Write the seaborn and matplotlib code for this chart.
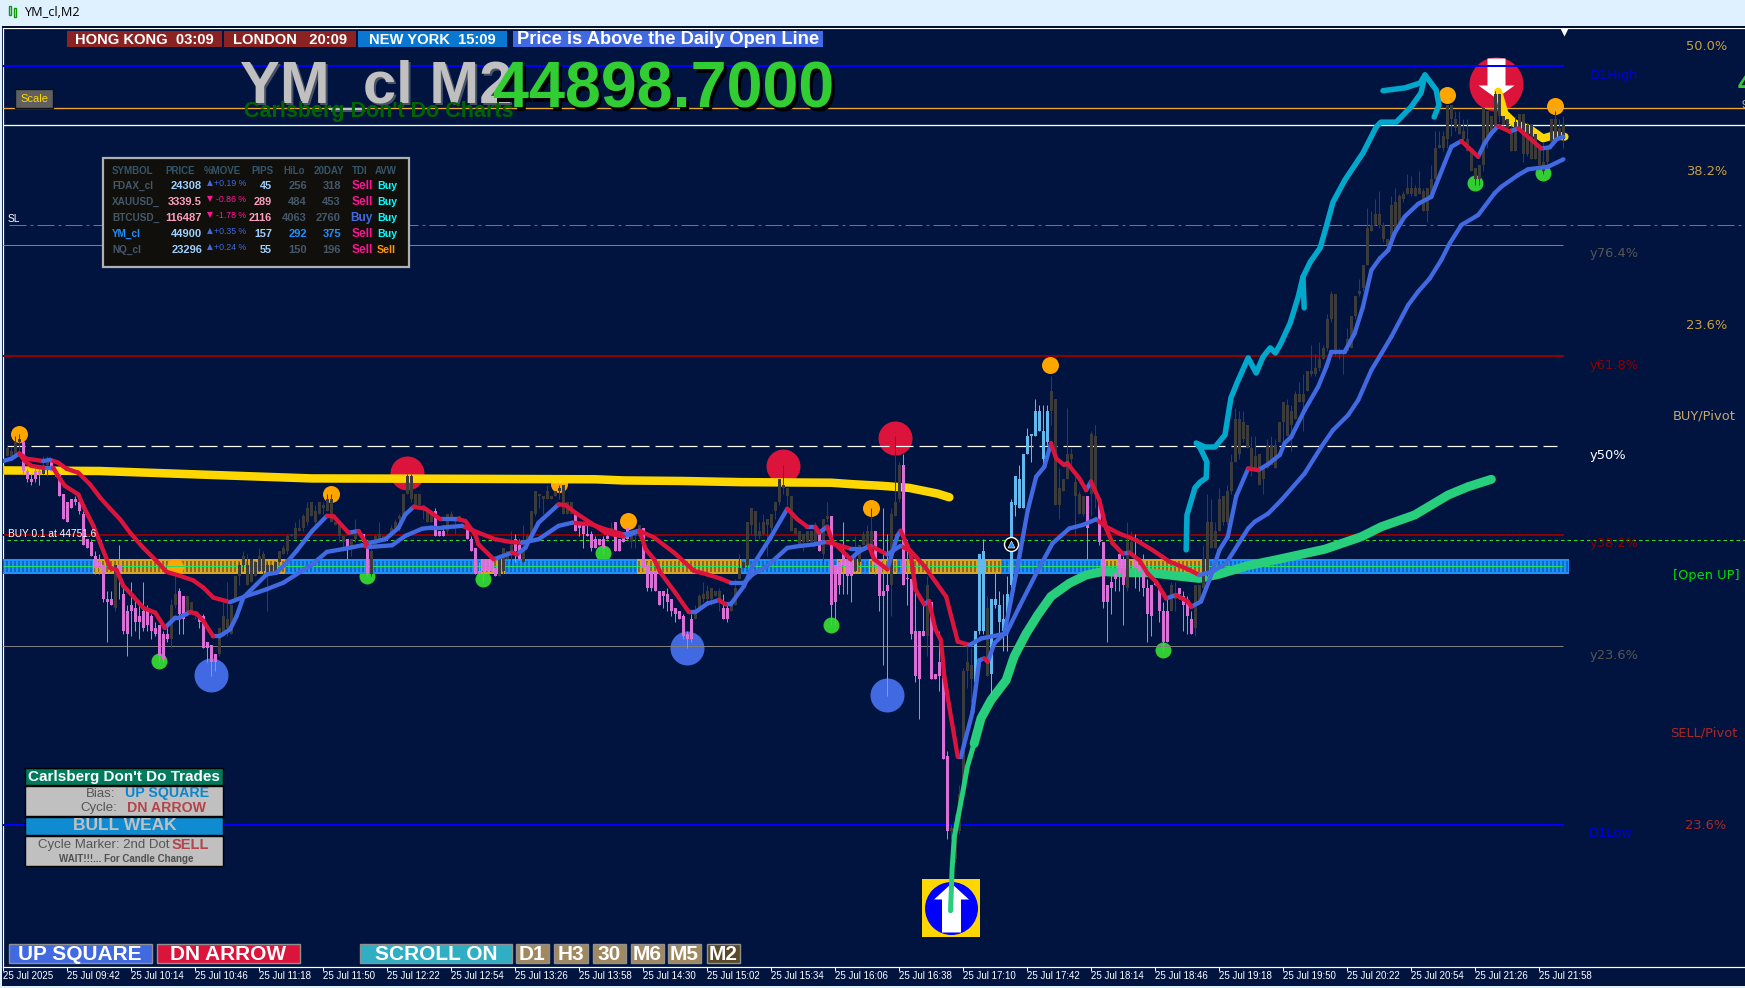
import numpy as np
import pandas as pd
import matplotlib
matplotlib.use('Agg')
import matplotlib.pyplot as plt
from matplotlib.patches import Rectangle
from matplotlib.path import Path
import seaborn as sns

# prices are points above 44000, x is the bar number (M2 bars)
body_top = [782,781,784,785,784,774,771,774,774,776,
 778,777,774,773,766,763,764,764,763,759,
 750,749,744,742,741,729,729,741,741,731,
 725,727,726,723,725,725,723,719,720,717,
 717,727,731,732,730,730,728,725,723,723,
 714,713,710,719,723,722,727,737,741,744,
 741,743,742,744,745,741,741,742,746,747,
 751,752,754,754,758,761,763,760,763,762,
 764,764,756,755,751,750,750,752,753,752,
 748,746,751,752,751,751,754,756,758,766,
 772,772,766,766,762,760,760,760,753,753,
 759,759,757,758,755,754,750,747,739,743,
 743,743,740,743,747,746,748,750,748,747,
 751,760,767,766,765,767,765,767,768,769,
 763,763,759,755,755,752,752,750,750,750,
 751,754,756,750,751,754,751,753,755,754,
 741,739,739,732,732,731,729,726,725,723,
 717,722,724,730,731,732,733,732,732,726,
 726,727,733,740,742,756,761,760,753,756,
 757,759,763,771,769,768,765,754,753,752,
 753,753,755,753,757,758,758,741,742,745,
 743,742,743,748,752,753,753,753,743,732,
 734,759,763,776,776,736,736,718,718,718,
 734,728,703,707,702,674,649,651,661,704,
 707,706,718,745,746,726,729,729,727,722,
 731,763,772,771,780,786,787,795,795,788,
 795,802,799,768,771,780,780,770,766,765,
 765,787,786,763,749,734,735,738,745,743,
 749,749,743,741,739,733,734,735,734,725,
 725,734,731,733,730,728,722,734,734,743,
 756,756,753,764,765,767,777,792,792,791,
 790,782,779,780,775,783,783,783,791,798,
 797,795,801,801,801,809,809,810,813,817,
 827,836,836,816,816,820,828,835,837,846,
 859,860,864,864,860,855,867,868,870,871,
 873,873,873,873,872,873,876,887,888,891,
 902,902,897,895,893,890,887,880,881,901,
 900,898,906,906,898,897,894,896,899,899,
 895,895,892,888,882,887,897,897,894,895]
body_bot = [779,779,780,784,774,771,770,771,773,773,
 776,774,773,765,757,756,761,763,760,748,
 747,744,740,740,729,728,727,726,738,718,
 717,725,721,721,719,720,718,717,709,708,
 715,715,727,724,722,725,724,723,721,712,
 712,707,707,710,716,719,717,729,737,741,
 734,735,737,739,739,738,738,739,742,745,
 746,751,750,753,754,756,758,756,759,761,
 760,756,755,751,749,747,747,750,752,749,
 738,738,748,750,750,750,751,754,757,758,
 766,764,762,762,761,756,756,751,751,751,
 753,757,756,756,754,750,746,738,738,739,
 739,739,737,737,739,743,745,746,743,742,
 748,752,759,765,764,764,764,765,767,759,
 759,759,753,754,752,751,747,747,748,747,
 750,752,746,746,749,750,749,751,751,740,
 733,733,732,727,730,728,725,724,722,716,
 715,715,722,726,729,729,729,730,729,722,
 722,725,727,736,740,741,755,751,751,752,
 755,754,760,763,768,765,753,752,748,749,
 749,749,749,746,745,757,727,728,734,741,
 737,737,739,742,748,748,748,741,730,730,
 732,734,758,764,734,736,717,702,701,716,
 716,701,701,702,673,648,648,638,648,662,
 704,701,700,718,718,702,703,727,721,718,
 722,734,762,761,761,780,786,786,788,778,
 784,795,762,762,767,771,778,765,759,759,
 754,766,767,749,728,728,733,736,738,734,
 733,744,740,739,733,724,723,734,725,714,
 714,725,729,731,727,723,717,719,728,733,
 738,747,747,753,756,756,767,777,780,785,
 782,775,774,769,771,775,776,775,784,791,
 786,790,792,798,798,802,808,808,810,813,
 817,827,815,815,815,816,817,828,836,838,
 846,858,860,860,855,853,855,858,860,869,
 871,871,870,871,865,865,869,876,887,887,
 890,897,894,892,890,886,879,876,876,881,
 890,891,894,898,895,894,886,886,894,885,
 885,883,883,881,879,882,889,890,890,890]
wick_high = [783,782,786,787,784,775,773,775,775,779,
 779,777,775,773,766,763,764,765,765,760,
 750,750,746,745,741,732,732,741,748,734,
 727,735,729,727,735,727,724,721,720,718,
 719,729,737,733,730,730,728,725,724,724,
 714,713,710,719,728,735,727,737,742,746,
 745,743,742,747,746,742,741,742,746,748,
 752,752,756,757,759,763,763,762,763,763,
 766,766,756,755,751,750,750,757,753,752,
 749,747,752,756,751,751,755,757,759,766,
 773,773,766,766,762,761,760,761,753,755,
 759,760,757,758,755,756,751,747,742,743,
 743,743,740,745,747,746,753,752,750,755,
 752,760,767,766,765,769,765,767,769,769,
 763,763,759,755,755,755,753,751,750,751,
 753,756,756,750,751,754,751,753,755,754,
 742,739,739,732,732,733,729,726,725,724,
 718,724,727,731,735,734,733,732,733,731,
 727,727,736,745,742,756,761,760,756,759,
 757,759,763,771,776,768,765,754,753,752,
 753,753,756,753,757,763,758,741,742,756,
 743,742,751,748,753,755,761,753,743,761,
 752,761,786,777,780,748,736,732,718,729,
 737,728,703,718,704,676,650,654,664,705,
 713,712,718,745,750,730,729,739,732,731,
 737,764,772,776,780,789,787,799,797,797,
 797,807,799,775,771,796,782,772,767,765,
 765,788,790,763,749,734,738,739,745,744,
 756,753,752,741,745,736,734,735,734,728,
 729,735,735,733,732,730,725,734,734,748,
 766,764,756,768,765,769,780,796,795,795,
 790,786,786,780,775,785,786,785,791,798,
 799,797,802,805,808,809,818,815,819,818,
 829,837,836,817,816,824,828,835,841,846,
 866,865,869,872,861,855,870,873,871,872,
 878,877,874,879,873,873,881,893,893,893,
 902,902,900,900,897,897,887,880,881,901,
 900,898,907,906,898,897,895,898,899,899,
 896,895,892,888,889,887,897,900,897,898]
wick_low = [779,779,780,780,773,770,769,770,769,773,
 772,774,772,765,757,756,761,762,759,748,
 747,744,738,738,728,714,727,725,729,717,
 709,716,718,715,718,718,715,716,707,707,
 714,712,726,717,717,723,724,722,719,712,
 707,702,704,709,716,716,717,729,734,739,
 734,735,737,739,738,725,738,739,742,745,
 745,751,750,753,753,755,758,755,759,759,
 760,756,755,749,746,743,744,749,752,749,
 737,737,747,749,750,750,751,753,753,758,
 766,763,762,762,757,756,756,751,751,751,
 752,757,752,756,754,750,746,738,737,735,
 739,739,737,737,738,743,741,742,743,742,
 747,751,758,761,759,764,764,765,764,759,
 759,759,753,751,747,751,746,747,748,745,
 750,752,746,746,749,750,747,747,751,739,
 732,732,732,727,726,725,723,721,722,715,
 712,714,722,725,728,727,727,730,725,722,
 721,725,727,736,740,740,752,750,750,752,
 744,753,757,762,766,762,753,752,748,746,
 749,749,749,746,741,756,720,720,731,731,
 731,728,739,741,748,747,748,738,725,706,
 695,723,758,763,734,727,715,700,687,716,
 709,701,701,697,673,645,645,637,647,661,
 698,693,699,717,717,702,696,726,715,711,
 711,733,758,761,761,780,777,786,788,776,
 783,790,762,757,767,771,775,751,759,758,
 743,758,761,748,726,714,724,732,732,720,
 732,744,733,732,730,714,716,734,721,711,
 714,725,725,729,718,717,717,716,728,733,
 737,747,747,753,755,755,766,777,778,784,
 782,772,774,769,766,775,776,775,784,784,
 786,781,792,798,788,802,807,807,809,813,
 816,826,814,813,808,816,817,827,835,837,
 846,858,860,859,854,852,854,856,860,868,
 871,870,870,871,865,861,869,876,887,886,
 887,891,893,892,889,886,879,874,874,879,
 887,891,894,896,895,894,886,886,894,882,
 884,883,883,881,878,881,889,889,890,887]
# d = up bar, p = down bar, b = highlighted up bar
bar_kind = ("ddddpppppd" "dppppppppp" "pppppppdpp" "pppppppppp" "pddppdddpp"
            "pppddddddd" "dddddddddd" "dddddddddd" "dddddpdddp" "pddddddddd"
            "dddddddppp" "dddddppppp" "pppddddppd" "dddddddddd" "ddpppppppp"
            "pdppppdddp" "pppppppppp" "ppdddddddp" "pddddddddd" "dddddddddd"
            "dddpddpppp" "ppdddddppp" "pdddpppppp" "dpppppdddd" "ddbbbdbbbb"
            "bbbbbbbbbb" "bddddddddd" "pddppppppp" "ddpppppppp" "pddppppddd"
            + "d" * 90)

# fast moving average
fast_x = [-1,1,3,4.4,6,9,11.5,12.75,14.4,17.75,19,21.5,23.2,25.7,27.3,29,31.5,34,37,39.4,42,43,45.7,47.3,49,51.5,53,55.7,57.3,59,
 62.3,64.8,67.3,69.8,72.3,76.2,79.9,81.6,85.3,87.8,89.9,90.75,94.5,97.8,99.5,101.6,104.5,108.3,112.8,114.5,117,117.8,121.6,126.2,127.4,129.5,132.8,137.8,139.5,142,147,149.5,151.5,154,
 155.8,158,159.6,161.7,163.3,167,170.4,172,175,177.9,179.6,180.8,184.2,186.3,190.8,195,197.5,200,202,202.9,205,206.3,208.3,210.8,212.5,215.4,216.7,220,222.5,223.3,225.8,226.7,227,229.2,230.4,232,
 233.4,234.25,235.9,237.6,238.4,241.3,243,244.25,245.1,246.75,249.25,250.9,253,255.1,257.2,259.25,260.9,262.2,264.2,265,268,269.7,270.9,273,274.7,276.3,278.8,280.5,283,285.1,287.2,289.7,292.2,295.1,296,298.4,300.5,303,305.1,307.2,310.2,
 312.7,315.2,318.1,319.3,321,324.3,327.7,329.75,331,334.3,336.8,338.9,341,343.1,345.2,346.8,349.3,352.7,356,359.3,361,363.5,367.7,369.3,371,372.7,375.6,377.7,383.5,385.6,387.3,389]
fast_y = [777.4,778.2,780,777.4,775.7,775,775,772,768.7,765.7,761.7,754.7,748.8,740,739.3,733.7,730,726,724.3,719,722.6,722.6,724.5,724,721.4,716,716,718.5,723,729.6,
 734.2,737.7,738.3,741.8,745.9,752.9,758.2,758,752.3,752.9,748.2,748.8,750,754,758.7,761.4,760.7,757,757,756.4,751.7,748.2,743,745.3,744.7,747,755.8,762.2,762,759.3,754.7,752.3,751.7,751,
 751.7,753,746.5,743,738.3,731.3,724.5,724.5,727.5,728.7,727.2,727.2,733.7,740.7,750.6,760.7,757,754.4,754.4,752.3,754.4,749,746.5,743,745.3,747.7,743,739.5,751.2,753,745.3,736,732.5,727.2,728.4,718.5,
 714.7,701.9,687.9,673.9,673.9,689.6,707.7,708.3,707.1,713.6,717,728.7,744,760.2,771.9,775.4,783.6,778.3,776,776.6,771.3,767.2,770.2,763.7,753.8,748.6,745,745.3,742.7,738,735.1,729.3,730.5,728.2,726.4,728.2,735.7,746.2,750.9,765,774.8,
 774.2,776.3,779.5,783.6,785.9,795.2,803.4,810.4,815.6,815.6,822,831.4,844.2,848.3,851.2,857.1,862.9,867.4,869.9,881.6,887.4,889.4,883.9,888.6,892.1,894.6,892.7,893.8,886.8,887.2,890,890.9]

# slow moving average
slow_x = [3,4.8,9,10.7,12.75,14.8,17.75,20.7,23.2,25.7,28.2,30.7,34,37.3,39.8,43.2,46.5,49,51.5,55.7,59.8,62.3,64.8,69,76.2,
 79.9,84.5,88.7,90.4,96.2,99.5,103.7,106.2,108.7,113.7,117.8,122,126.2,128.7,132.8,137.8,141.2,146.2,149.5,154.2,
 158,161.7,166.7,171.7,175,178.4,180.8,184.2,186.3,190,195,198.3,201.7,204.2,205.8,210.8,214.2,215.8,220,223.3,225.8,229.2,232.2,
 234.7,237.6,240.5,243.5,249.7,253,257.2,261.3,265.5,268.8,272.2,274.7,278,282.2,286.3,290.5,294.7,298,301.3,304.7,310.2,
 311.8,315.2,318.5,324.3,328.5,331.4,335.2,337.7,341,343.5,346,350.2,352.7,355.6,358.5,360.6,363.5,367.7,371.8,373.5,377.7,380.2,385.2,389]
slow_y = [780,778.2,777.4,777.8,776.8,774.7,773.3,769.2,764.6,760.7,757,752.3,747,742.4,738.6,737.2,735.6,733.1,729.6,728,730.2,731.3,732.5,734.8,741.2,
 745.6,746.7,747.9,747.3,747.9,751.2,753.7,754.1,754.1,754.7,752.3,750,749,748.8,750,754.7,755.8,755.2,753.5,751.7,
 753,750.6,745.3,738.9,737.7,736.2,734.8,734.8,737.7,740.7,747,747.7,748.2,749,748.8,746.7,746.7,747.7,744.7,747.7,745.9,740.7,734.8,
 729.9,714.2,713,715.3,717,726.4,738,748.6,753.8,755,757,754.4,752,749.7,746.2,742.2,739.8,737.5,738.7,741.6,753.8,
 756.1,759,763.7,773,782.4,788.2,793.5,798.7,809.2,815,820.9,832,836.7,841.3,847.8,853.6,860,863.5,871.1,873.4,877.5,879.5,880.4,883]

# long moving averages
green_x = [235.8,236.2,236.75,238.8,240,241.7,243.4,245.9,249.7,251.7,254.7,257.6,260.9,265.5,269.7,273.8,278.8,285.5,292.2,298,303,310.2,316.8,322.7,329.3,338.5,343.5,351.8,360.2,365.2,371]
green_y = [620,635,646,661,670.4,678.5,687.3,693.7,700.7,709,717,723.5,730,734.6,737.5,738.7,738.3,738.3,737.2,736.3,737.8,740.8,742.7,744.5,746.5,750.9,754.4,758.5,765.5,768.4,771]
yellow_x = [-1,23,76,107,147,154,169,183.5,206,211,218.7,225.4,232.5,235.5]
yellow_y = [774.1,773.9,771.3,771.2,771,770.6,770.4,770,769.8,769.3,768.7,768,766,764.7]
tail_x = [372.7,374.3,376.8,381,383.9,386.8,389.3]
tail_y = [906.7,899,895.6,893.2,890.3,891.5,890.9]

# hand drawn cyan arrow
pen_x = [294.7,294.9,296.9,298.2,299.7,299.9,298.2,297.2,299.4,301.9,304.4,305.2,305.9,307.4,310.2,312.2,313.9,315.7,317,318.4,320.7,322.7,323.9,325.7,328.2,329.7,331.4,334.4,338.9,342.2,343.4,347.2,350.9,353.4,354.4]
pen_y = [746.3,758.5,768,770,771.5,777,782,783.7,782.3,782.3,786.5,793.5,799.5,804.7,813.5,808.2,813.8,817,815.2,818.7,825.7,834.8,841.8,847,852,859.3,868,875.8,885.2,894.3,896,896,901.3,906.2,912.5]
head_x = [343.9,349.4,353.2,354.4,357.2,357.9,356.7]
head_y = [907,908,909.7,912.5,907.3,902,897.8]
spur_x = [323.9,324.2]
spur_y = [841.8,831]

# signal dots
orange_x = [2.9,80.9,137.9,216,155.2,260.7,359.9,387]
orange_y = [786.9,765.9,769.4,761,756.4,811,905.5,901.7]
green_dot_x = [37.9,89.9,118.9,148.9,205.9,288.9,366.9,384]
green_dot_y = [707.4,737.2,736.1,745.2,720,711.3,874.7,878.2]
blue_dot_x = [50.9,170,220]
blue_dot_y = [702.5,712,695.5]
red_dot_x = [99.9,193.9,222]
red_dot_y = [773.2,775.7,785.5]

# horizontal levels
d1_high, gold_level, bid_level, sl_level = 915.7, 901.1, 895, 860
y764, y618, y50, y382, buy_level, y236, d1_low = 852.9, 814.2, 782.6, 751.5, 749.6, 712.5, 650
orange_spans = [(22,69),(119,124),(158,183),(208,213),(216,222),(225,248),(274,300)]

tick_bars = [-1 + 16*k for k in range(25)]
tick_labels = ['25 Jul 2025','25 Jul 09:42','25 Jul 10:14','25 Jul 10:46','25 Jul 11:18','25 Jul 11:50',
               '25 Jul 12:22','25 Jul 12:54','25 Jul 13:26','25 Jul 13:58','25 Jul 14:30','25 Jul 15:02',
               '25 Jul 15:34','25 Jul 16:06','25 Jul 16:38','25 Jul 17:10','25 Jul 17:42','25 Jul 18:14',
               '25 Jul 18:46','25 Jul 19:18','25 Jul 19:50','25 Jul 20:22','25 Jul 20:54','25 Jul 21:26','25 Jul 21:58']

# dashboard table
symbols = ['FDAX_cl','XAUUSD_','BTCUSD_','YM_cl','NQ_cl']
table_prices = ['24308','3339.5','116487','44900','23296']
table_moves = ['+0.19 %','-0.86 %','-1.78 %','+0.35 %','+0.24 %']
table_pips = ['45','289','2116','157','55']
table_hilo = ['256','484','4063','292','150']
table_20day = ['318','453','2760','375','196']
table_tdi = ['Sell','Sell','Buy','Sell','Sell']
table_avw = ['Buy','Buy','Buy','Buy','Sell']
table_heads = ['SYMBOL','PRICE','%MOVE','PIPS','HiLo','20DAY','TDI','AVW']

W, H = 1745, 988
BG = '#00143F'
sns.set_theme(style='dark', rc={'axes.facecolor': BG, 'figure.facecolor': BG})
plt.rcParams['font.family'] = ['Liberation Sans', 'DejaVu Sans']

fig = plt.figure(figsize=(W/100, H/100), dpi=100)
ax = fig.add_axes([3/W, 1-967/H, (W-3)/W, (967-28)/H])
ax.set_xlim(-1.075, 434.4)
ax.set_ylim(600.3, 928.95)
PX = 0.72  # one pixel in points


def seg_frame(xs, ys):
    # one row pair per segment so each can be coloured by its direction
    rows = []
    for k in range(len(xs)-1):
        d = 'up' if ys[k+1] >= ys[k] else 'down'
        rows.append((xs[k], ys[k], k, d))
        rows.append((xs[k+1], ys[k+1], k, d))
    return pd.DataFrame(rows, columns=['bar', 'price', 'seg', 'dir'])


def dots(xs, ys, size, color, z=2):
    sns.scatterplot(x=xs, y=ys, s=(size*PX)**2, color=color, linewidth=0, ax=ax, zorder=z, legend=False)


dots(orange_x, orange_y, 17, '#FFA500')
dots([41.9], [740.3], 17, '#FFA500', z=3.6)
dots(green_dot_x, green_dot_y, 16, '#32CD32')
dots(blue_dot_x, blue_dot_y, 34, '#4169E1')
dots(red_dot_x, red_dot_y, 34, '#DC143C')

# horizontal levels
ax.hlines([d1_high, d1_low], -1.075, 389.2, color='#0000FF', lw=2*PX, zorder=3)
ax.hlines([y618, y382], -1.075, 389.2, color='#8B0000', lw=2*PX, zorder=3)
ax.hlines([y764, y236], -1.075, 389, color='#7F7F7F', lw=1*PX, zorder=3)
ax.hlines(gold_level, -1.075, 434.4, color='#F0A828', lw=1.3*PX, zorder=3)
ax.hlines(bid_level, -1.075, 434.4, color='#FFFFFF', lw=1.3*PX, zorder=3)
ax.plot([0.5, 434.4], [sl_level]*2, color='#FF4500', lw=1*PX, zorder=3, dashes=(17, 4, 3, 4))
ax.plot([0, 387.5], [y50]*2, color='#FFFFFF', lw=1.2*PX, zorder=3, dashes=(15, 5))
ax.plot([0, 434.4], [buy_level]*2, color='#32E020', lw=1*PX, zorder=3, dashes=(3.5, 3))

# zone strip, one cell per bar
zone_top, zone_bot, zone_mid = 743.1, 737.85, 740.5
cells = np.arange(-1, 391)
is_orange = np.array([any(a <= c <= b for a, b in orange_spans) for c in cells])
ax.bar(cells, zone_top-zone_bot, bottom=zone_bot, width=1.0,
       color=np.where(is_orange, '#DAA520', '#1E90FF'), linewidth=0, zorder=3.5)
ax.vlines(cells[is_orange], zone_bot+0.6, zone_top-0.6, color='#8A6A28', lw=2*PX, zorder=3.55)
ax.vlines(cells[~is_orange], zone_bot+0.6, zone_top-0.6, color='#0C62AE', lw=1.6*PX, zorder=3.55)
ax.hlines(zone_mid, -1, 389, color='#22E060', lw=1*PX, zorder=3.6)

# long averages
sns.lineplot(x=yellow_x, y=yellow_y, color='#FFD700', lw=8.5*PX, ax=ax, zorder=4, sort=False,
             estimator=None, solid_capstyle='round')
sns.lineplot(x=green_x[:6], y=green_y[:6], color='#27CE7C', lw=5*PX, ax=ax, zorder=5.5, sort=False,
             estimator=None, solid_capstyle='round')
sns.lineplot(x=green_x[5:], y=green_y[5:], color='#27CE7C', lw=9*PX, ax=ax, zorder=4.5, sort=False,
             estimator=None, solid_capstyle='round')

# candles
kinds = np.array(list(bar_kind))
bars = np.arange(len(body_top))
top = np.array(body_top, dtype=float)
bot = np.array(body_bot, dtype=float)
kind_colors = {'d': '#3B3B3B', 'p': '#DA70D6', 'b': '#63B8EE'}
for k, col in kind_colors.items():
    m = kinds == k
    ax.vlines(bars[m], np.array(wick_low)[m], np.array(wick_high)[m], color=col, lw=1*PX, zorder=5)
    ax.bar(bars[m], np.maximum(top[m]-bot[m], 0.4), bottom=bot[m], width=0.8, color=col, linewidth=0, zorder=5)

# fast and slow averages, red while falling and blue while rising
pal = {'up': '#4169E1', 'down': '#DC143C'}
for xs, ys in [(slow_x, slow_y), (fast_x, fast_y)]:
    sns.lineplot(data=seg_frame(xs, ys), x='bar', y='price', hue='dir', units='seg', estimator=None,
                 sort=False, palette=pal, lw=4.3*PX, ax=ax, zorder=6, legend=False, solid_capstyle='round')

# pen strokes
for xs, ys in [(pen_x, pen_y), (head_x, head_y), (spur_x, spur_y)]:
    sns.lineplot(x=xs, y=ys, color='#00A9CC', lw=5.5*PX, ax=ax, zorder=7, sort=False, estimator=None,
                 solid_capstyle='round', solid_joinstyle='round')

# arrow signals
dn_arrow = Path(np.array([(-9, 26), (9, 26), (9, -1), (18, -1), (0, -14), (-18, -1), (-9, -1), (-9, 26)], float))
up_arrow = Path(np.array([(-9.5, -24), (9.5, -24), (9.5, 9), (17.5, 9), (0, 25), (-17.5, 9), (-9.5, 9), (-9.5, -24)], float))
ax.scatter([372.2], [909.4], s=(54*PX)**2, color='#DC143C', linewidths=0, zorder=2)
ax.scatter([372.2], [909.4], s=(52*PX)**2, color='#FFFFFF', marker=dn_arrow, linewidths=0, zorder=2.5)
sns.lineplot(x=tail_x, y=tail_y, color='#FFD700', lw=8*PX, ax=ax, zorder=4.8, sort=False, estimator=None,
             solid_capstyle='round')
ax.scatter([235.9], [621], s=(58*PX)**2, color='#FFD700', marker='s', linewidths=0, zorder=2)
ax.scatter([235.9], [621], s=(53*PX)**2, color='#0000FF', linewidths=0, zorder=2.2)
ax.scatter([235.9], [621], s=(50*PX)**2, color='#FFFFFF', marker=up_arrow, linewidths=0, zorder=2.5)

# mouse cursor and chart shift triangle
ax.scatter([251], [748.4], s=(14*PX)**2, color='#000000', edgecolors='#FFFFFF', linewidths=1, zorder=7.5)
ax.scatter([251], [748.4], s=(7*PX)**2, color='#1E90FF', marker='^', edgecolors='#FFFFFF', linewidths=0.4, zorder=7.6)
ax.scatter([389.2], [927.6], s=(8*PX)**2, color='#FFFFFF', marker='v', linewidths=0, zorder=7.6)

ax.set_yticks([])
ax.set_xticks(tick_bars)
ax.set_xticklabels(tick_labels, ha='left', color='white', fontsize=7)
ax.tick_params(axis='x', length=4*PX, width=PX, color='white', pad=0, bottom=True)
ax.set_xlabel('')
ax.set_ylabel('')
for name in ['left', 'top', 'bottom']:
    ax.spines[name].set_color('white')
    ax.spines[name].set_linewidth(1.2*PX)
ax.spines['right'].set_visible(False)
ax.grid(False)


def box(x0, y0, x1, y1, fc, ec='none', lw=0, z=10):
    fig.add_artist(Rectangle((x0/W, 1-y1/H), (x1-x0)/W, (y1-y0)/H, transform=fig.transFigure,
                             facecolor=fc, edgecolor=ec, linewidth=lw, zorder=z))


def label(x, y, s, z=11, **kw):
    kw.setdefault('va', 'center')
    kw.setdefault('color', 'white')
    return fig.text(x/W, 1-y/H, s, zorder=z, **kw)


# window frame
box(0, 0, W, 26, '#DFF0FF')
box(0, 26, W, 28, '#001030')
box(0, 985.5, W, H, '#DFF0FF')
box(0, 26, 1.5, H, '#DFF0FF')
box(9, 6, 11, 15, 'none', ec='#0A9A0A', lw=1)
box(14, 8, 16, 17, 'none', ec='#0A9A0A', lw=1)
label(24, 12.5, 'YM_cl,M2', color='black', fontsize=9.2, family=['Open Sans', 'DejaVu Sans'])

# session boxes
box(67, 31, 222, 47, '#8C2323')
label(144.5, 39.5, 'HONG KONG  03:09', fontsize=10.6, fontweight='bold', ha='center')
box(224, 31, 356, 47, '#8C2323')
label(290, 39.5, 'LONDON   20:09', fontsize=10.6, fontweight='bold', ha='center')
box(358, 31, 507, 47, '#0A78D0')
label(432.5, 39.5, 'NEW YORK  15:09', fontsize=10.6, fontweight='bold', ha='center')
box(513, 31, 823, 47, '#4169E1')
label(668, 39.5, 'Price is Above the Daily Open Line', fontsize=13.2, fontweight='bold', ha='center')

# big headers
label(240+2, 89, 'YM_cl M2', fontsize=43, fontweight='bold', color='#4A5266', z=10.1)
label(240, 87, 'YM_cl M2', fontsize=43, fontweight='bold', color='#C0C0C0', z=10.2)
label(244, 112, "Carlsberg Don't Do Charts", fontsize=15.5, fontweight='bold', color='#006400', z=10.3)
label(493+3, 94, '44898.7000', fontsize=46.5, fontweight='bold', color='#000000', z=10.4)
label(493, 91, '44898.7000', fontsize=46.5, fontweight='bold', color='#32CD32', z=10.5)
label(1738, 85, '4', fontsize=20, fontweight='bold', color='#32CD32')
label(1741, 105, '9', fontsize=8, color='#C0C0C0')

box(15, 89, 53, 108, '#606060', ec='#101010', lw=1)
label(34, 98.5, 'Scale', fontsize=8, color='#FFD700', ha='center')

# right side labels
fib_font = ['DejaVu Sans']
right_labels = [(1686, 46, '50.0%', '#C8A040'), (1590, 75, 'D1High', '#0000DD'), (1590, 254, 'y76.4%', '#555555'),
                (1686, 171, '38.2%', '#C8A040'), (1686, 325, '23.6%', '#C8A040'), (1590, 365, 'y61.8%', '#8B0000'),
                (1673, 416, 'BUY/Pivot', '#C8A868'), (1590, 455, 'y50%', '#FFFFFF'), (1590, 544, 'y38.2%', '#8B0000'),
                (1673, 575, '[Open UP]', '#00DD00'), (1590, 655, 'y23.6%', '#555555'), (1670, 733, 'SELL/Pivot', '#A52A2A'),
                (1589, 833, 'D1Low', '#0000DD'), (1685, 825, '23.6%', '#A52A2A')]
for x, y, s, c in right_labels:
    label(x, y, s, color=c, fontsize=9.4, family=fib_font)
label(8, 534, 'BUY 0.1 at 44751.6', fontsize=7.3)
label(8, 219, 'SL', fontsize=7.3)

# dashboard table
box(103, 158, 409, 267, '#100F0C', ec='#B0B0B0', lw=1.6)
head_pos = [(112, 'left'), (180, 'center'), (222, 'center'), (262, 'center'), (294, 'center'), (329, 'center'), (360, 'center'), (386, 'center')]
for s, (x, ha) in zip(table_heads, head_pos):
    label(x, 171, s, fontsize=7, fontweight='bold', color='#34566A', ha=ha)
row_y = [186, 202, 218, 234, 250]
dim = '#45586A'
for k, y in enumerate(row_y):
    hot = table_moves[k].startswith('-')
    pcol = '#FF9EC0' if hot else '#9FD0FF'
    scol = '#1E90FF' if symbols[k] == 'YM_cl' else dim
    label(112, y, symbols[k], fontsize=7.2, fontweight='bold', color=scol)
    label(202, y, table_prices[k], fontsize=8, fontweight='bold', color=pcol, ha='right')
    mcol = '#FF1493' if hot else '#4169E1'
    label(210, y-3, '\u25bc' if hot else '\u25b2', fontsize=5.5, color=mcol, family=fib_font, ha='center')
    label(246, y-3, table_moves[k], fontsize=6.3, color=mcol, ha='right')
    label(272, y, table_pips[k], fontsize=7.8, fontweight='bold', color=pcol, ha='right')
    label(307, y, table_hilo[k], fontsize=8, fontweight='bold', color=scol, ha='right')
    label(341, y, table_20day[k], fontsize=8, fontweight='bold', color=scol, ha='right')
    tcol = '#4169E1' if table_tdi[k] == 'Buy' else '#FF1493'
    label(373, y, table_tdi[k], fontsize=8.6, fontweight='bold', color=tcol, ha='right')
    acol = '#00FFFF' if table_avw[k] == 'Buy' else '#FF9500'
    label(377, y, table_avw[k], fontsize=7.7, fontweight='bold', color=acol)

# trade panel
box(25, 768, 223, 785, '#007A5C', ec='black', lw=1)
label(124, 776.5, "Carlsberg Don't Do Trades", fontsize=11, fontweight='bold', ha='center')
box(25, 786, 223, 816, '#C0C0C0', ec='black', lw=1)
label(115, 794, 'Bias:', fontsize=9.5, color='#555555', ha='right')
label(125, 793, 'UP SQUARE', fontsize=10.2, fontweight='bold', color='#0A86D0')
label(117, 808, 'Cycle:', fontsize=9.5, color='#555555', ha='right')
label(127, 808, 'DN ARROW', fontsize=10.2, fontweight='bold', color='#B4444A')
box(25, 817, 223, 835, '#0F8BD2', ec='black', lw=1)
label(125, 826, 'BULL WEAK', fontsize=12.5, fontweight='bold', color='#C0C0C0', ha='center')
box(25, 836, 223, 866, '#C0C0C0', ec='black', lw=1)
label(38, 845, 'Cycle Marker: 2nd Dot', fontsize=9.5, color='#555555')
label(172, 845, 'SELL', fontsize=10.5, fontweight='bold', color='#B4444A')
label(126, 859, 'WAIT!!!... For Candle Change', fontsize=7, fontweight='bold', color='#505050', ha='center')

# bottom buttons
buttons = [(8.5, 151.5, 'UP SQUARE', '#4169E1'), (156.5, 300, 'DN ARROW', '#DC143C'), (360, 512, 'SCROLL ON', '#2FAEC4'),
           (516, 549, 'D1', '#A08860'), (554, 587.5, 'H3', '#A08860'), (592.6, 626, '30', '#A08860'),
           (631, 664, 'M6', '#A08860'), (668, 701, 'M5', '#A08860'), (706.5, 740, 'M2', '#5A4A28')]
for x0, x1, s, c in buttons:
    box(x0, 944, x1, 963, c, ec='#909090', lw=1)
    label((x0+x1)/2, 954, s, fontsize=15, fontweight='bold', ha='center')

fig.savefig('out.png', dpi=100, facecolor=BG)
